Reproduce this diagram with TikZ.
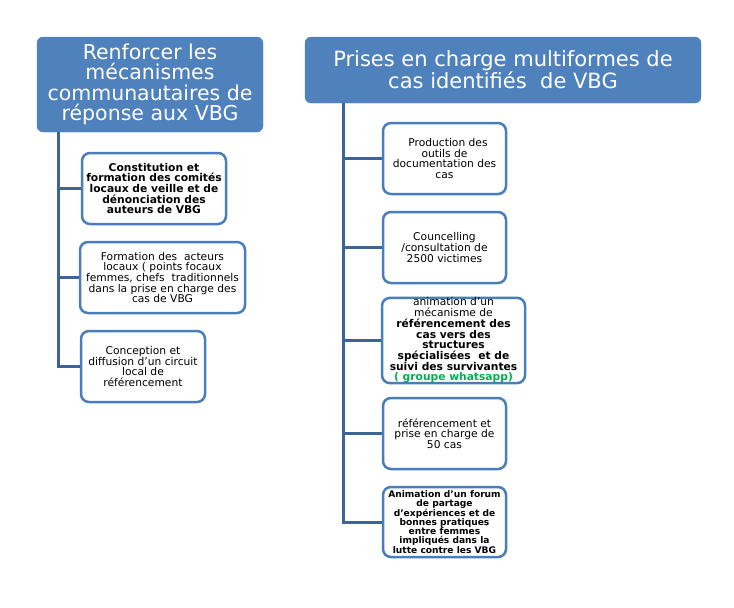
\documentclass[tikz,border=0pt]{standalone}
\usepackage{fontspec}
\setmainfont{DejaVu Sans}
\definecolor{hdr}{HTML}{4F81BD}
\definecolor{bord}{HTML}{4A7EBB}
\definecolor{connc}{HTML}{3C6497}
\definecolor{grn}{HTML}{00B050}
\begin{document}
\begin{tikzpicture}[x=1pt,y=-1pt,
  header/.style={fill=hdr, draw=hdr, rounded corners=6pt, text=white, align=center, inner sep=0pt},
  leaf/.style={draw=bord, line width=2.5pt, fill=white, rounded corners=8pt, align=center, inner sep=0pt,
    font=\fontsize{10.7}{10.7}\selectfont},
  connector/.style={draw=connc, line width=3pt}]
\fill[white] (0,0) rectangle (734,608);
\useasboundingbox (0,0) rectangle (734,608);
% headers
\node[header, minimum width=226pt, minimum height=95pt, font=\fontsize{20.5}{20.5}\selectfont] (lh) at (150,84.5)
  {Renforcer les\\mécanismes\\communautaires de\\réponse aux VBG};
\node[header, minimum width=396pt, minimum height=66pt, font=\fontsize{21}{21}\selectfont] (rh) at (503,70)
  {Prises en charge multiformes de\\cas identifiés~ de VBG};
% left leaves
\node[leaf, minimum width=144pt, minimum height=71pt] (L1) at (154,188.5)
  {\bfseries Constitution et\\\bfseries formation des comités\\\bfseries locaux de veille et de\\\bfseries dénonciation des\\\bfseries auteurs de VBG};
\node[leaf, minimum width=165pt, minimum height=71pt] (L2) at (162.5,277.5)
  {Formation des~ acteurs\\locaux ( points focaux\\femmes, chefs~ traditionnels\\dans la prise en charge des\\cas de VBG};
\node[leaf, minimum width=124pt, minimum height=71pt] (L3) at (143,366.5)
  {Conception et\\diffusion d’un circuit\\local de\\référencement};
% right leaves
\node[leaf, minimum width=123pt, minimum height=71pt] (R1) at (444.5,158.5)
  {\hspace{7pt}Production des\\outils de\hspace{30pt}\\documentation des\\cas};
\node[leaf, minimum width=123pt, minimum height=71pt] (R2) at (444.5,247.5)
  {Councelling\\/consultation de\\2500 victimes};
\node[leaf, minimum width=143pt, minimum height=79pt] (R3) at (453.5,340.5)
  {animation d'un\\mécanisme de\\\bfseries référencement des\\\bfseries cas vers des\\\bfseries structures\\\bfseries spécialisées~ et de\\\bfseries suivi des survivantes\\\bfseries\color{grn}( groupe whatsapp)};
\node[leaf, minimum width=123pt, minimum height=71pt] (R4) at (444.5,433.5)
  {référencement et\\prise en charge de\\50 cas};
\node[leaf, minimum width=123pt, minimum height=70pt, font=\fontsize{9.1}{9.3}\selectfont\bfseries] (R5) at (444.5,522)
  {Animation d’un forum\\de partage\\d’expériences et de\\bonnes pratiques\\entre femmes\\impliqués dans la\\lutte contre les VBG};
% connectors
\coordinate (lt) at ([xshift=22pt]lh.south west);
\coordinate (rt) at ([xshift=39pt]rh.south west);
\draw[connector] (lt) |- (L3.west);
\draw[connector] (lt |- L1.west) -- (L1.west);
\draw[connector] (lt |- L2.west) -- (L2.west);
\draw[connector] (rt) |- (R5.west);
\draw[connector] (rt |- R1.west) -- (R1.west);
\draw[connector] (rt |- R2.west) -- (R2.west);
\draw[connector] (rt |- R3.west) -- (R3.west);
\draw[connector] (rt |- R4.west) -- (R4.west);
\end{tikzpicture}
\end{document}
